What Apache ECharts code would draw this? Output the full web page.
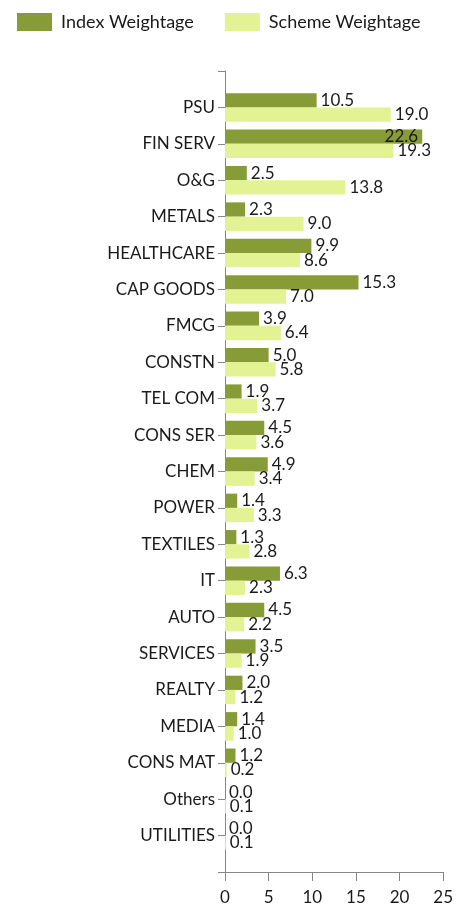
<!DOCTYPE html>
<html><head><meta charset="utf-8">
<script src="https://cdn.jsdelivr.net/npm/echarts@6/dist/echarts.min.js"></script>
<style>html,body{margin:0;padding:0;background:#fff}#c{width:456px;height:906px}</style>
</head><body><div id="c"></div>
<script>
const categories = ['PSU','FIN SERV','O&G','METALS','HEALTHCARE','CAP GOODS','FMCG','CONSTN','TEL COM','CONS SER','CHEM','POWER','TEXTILES','IT','AUTO','SERVICES','REALTY','MEDIA','CONS MAT','Others','UTILITIES'];
const indexWeightage = [10.5,22.6,2.5,2.3,9.9,15.3,3.9,5.0,1.9,4.5,4.9,1.4,1.3,6.3,4.5,3.5,2.0,1.4,1.2,0.0,0.0];
const schemeWeightage = [19.0,19.3,13.8,9.0,8.6,7.0,6.4,5.8,3.7,3.6,3.4,3.3,2.8,2.3,2.2,1.9,1.2,1.0,0.2,0.1,0.1];
const xTicks = [0,5,10,15,20,25];

const FONT = 'Lato';
const padCats = [''].concat(categories, ['']);
function pad(arr){
  return [null].concat(arr.map(v => ({
    value: v,
    label: v > 21 ? {position:'insideRight', distance: 4} : {}
  })), [null]);
}
const chart = echarts.init(document.getElementById('c'), null, {renderer:'canvas'});
chart.setOption({
  animation:false,
  textStyle:{fontFamily:FONT},
  legend:{
    left:12, top:8, itemWidth:35, itemHeight:18, itemGap:31,
    icon:'rect',
    textStyle:{fontFamily:FONT, fontSize:18, color:'#1a1a1a', padding:[0,0,0,4]},
    data:['Index Weightage','Scheme Weightage']
  },
  grid:{left:225, right:8, top:71, bottom:31, containLabel:false},
  xAxis:{
    type:'value', min:xTicks[0], max:xTicks[xTicks.length-1], interval:5,
    axisLine:{show:true, lineStyle:{color:'#868686', width:1}},
    axisTick:{show:true, length:9, lineStyle:{color:'#868686'}},
    axisLabel:{fontFamily:FONT, fontSize:17, color:'#1a1a1a', margin:17},
    splitLine:{show:false}
  },
  yAxis:{
    type:'category', inverse:true, boundaryGap:false, data:padCats,
    axisLine:{show:true, lineStyle:{color:'#868686', width:1}},
    axisTick:{show:true, length:7, lineStyle:{color:'#868686'}},
    axisLabel:{fontFamily:FONT, fontSize:17, color:'#1a1a1a', margin:10, interval:0}
  },
  series:[
    {name:'Index Weightage', type:'bar', data:pad(indexWeightage), barGap:'0%', barCategoryGap:'21.6%',
     itemStyle:{color:'#879C36'},
     label:{show:true, position:'right', distance:4, fontFamily:FONT, fontSize:17, color:'#1a1a1a',
       formatter:p => p.value == null ? '' : Number(p.value).toFixed(1)}},
    {name:'Scheme Weightage', type:'bar', data:pad(schemeWeightage), barGap:'0%', barCategoryGap:'21.6%',
     itemStyle:{color:'#E3F292'},
     label:{show:true, position:'right', distance:4, fontFamily:FONT, fontSize:17, color:'#1a1a1a',
       formatter:p => p.value == null ? '' : Number(p.value).toFixed(1)}}
  ]
});
</script></body></html>
